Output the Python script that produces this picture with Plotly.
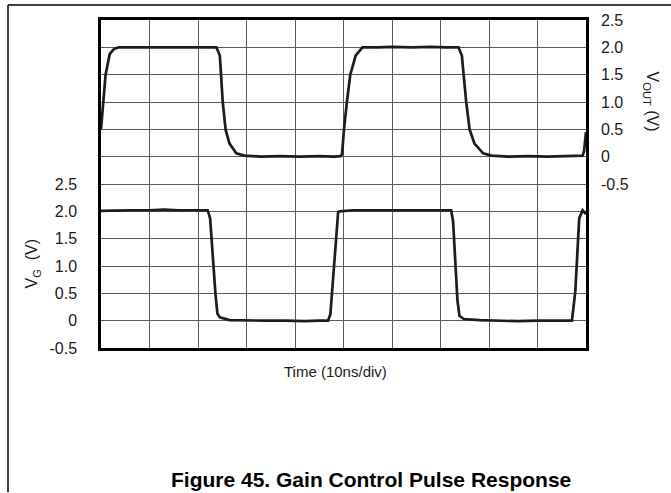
import plotly.graph_objects as go

# Time base: 10 divisions of 10 ns
time_out = [0, 0.4, 0.95, 1.8, 2.7, 3.7, 6, 10, 14, 17, 19, 21, 23.2, 23.8, 24.5, 25.1, 25.7,
            26.5, 27.9, 29.6, 33, 37, 41, 45, 48, 49.4, 49.7, 50.1, 50.7, 51.4, 52.5, 53.9,
            57, 60, 64, 68, 71, 73.2, 73.7, 74.4, 75.3, 76.0, 77.0, 78.8, 80.5, 84, 88, 92,
            96, 99.3, 99.6, 100]
v_out = [0.5, 1.0, 1.5, 1.88, 1.97, 2.0, 2.0, 2.01, 2.0, 2.01, 2.0, 2.01, 2.01, 2.0, 1.85, 1.0,
         0.49, 0.24, 0.06, 0.02, 0.0, 0.01, 0.0, 0.01, 0.0, 0.01, 0.05, 0.5, 1.0, 1.5, 1.85,
         2.0, 2.0, 2.01, 2.0, 2.01, 2.0, 2.01, 2.0, 1.85, 1.0, 0.5, 0.24, 0.06, 0.02, 0.0, 0.01,
         0.0, 0.01, 0.02, 0.1, 0.45]

time_g = [0, 3, 6, 10, 13, 16, 19, 21.6, 22.0, 22.5, 23.1, 23.6, 24.0, 24.5, 26.5, 30, 34, 38,
          42, 45, 46.8, 47.3, 47.8, 48.5, 48.9, 49.2, 52, 55, 59, 63, 67, 70, 72.2, 72.6, 73.1,
          73.5, 73.9, 74.8, 78, 82, 86, 90, 94, 97.1, 97.8, 98.2, 98.6, 99.3, 100]
v_g = [2.01, 2.02, 2.02, 2.02, 2.03, 2.02, 2.02, 2.03, 2.02, 1.87, 1.03, 0.49, 0.13, 0.06, 0.01,
       0.0, 0.0, 0.0, -0.01, 0.0, 0.0, 0.12, 0.72, 1.63, 1.99, 2.0, 2.02, 2.02, 2.02, 2.03,
       2.02, 2.02, 2.02, 1.81, 1.08, 0.36, 0.09, 0.03, 0.01, 0.0, -0.01, 0.0, 0.0, 0.0, 0.54,
       1.21, 1.87, 2.02, 1.95]

tick_vals = [-0.5, 0, 0.5, 1.0, 1.5, 2.0, 2.5]
tick_text = ["-0.5", "0", "0.5", "1.0", "1.5", "2.0", "2.5"]

W, H = 671, 493
ML, MR, MT, MB = 101, 85, 18, 145
PW, PH = W - ML - MR, H - MT - MB


def px(x):
    return (x - ML) / PW


def py(y):
    return (H - MB - y) / PH


FONT = "Liberation Sans, Arial, sans-serif"
GRID = "#5a5a5a"
TRACE = "#1c1c1c"

fig = go.Figure()
fig.add_trace(go.Scatter(x=time_g, y=v_g, mode="lines", yaxis="y",
                         line=dict(color=TRACE, width=2.7), showlegend=False))
fig.add_trace(go.Scatter(x=time_out, y=v_out, mode="lines", yaxis="y2",
                         line=dict(color=TRACE, width=2.7), showlegend=False))

fig.update_layout(
    width=W, height=H,
    margin=dict(l=ML, r=MR, t=MT, b=MB),
    paper_bgcolor="white", plot_bgcolor="white",
    font=dict(family=FONT, size=16, color="#1a1a1a"),
    xaxis=dict(range=[0, 100], dtick=10, tick0=0, showticklabels=False, ticks="",
               showgrid=True, gridcolor=GRID, gridwidth=1, zeroline=False,
               showline=True, linecolor="black", linewidth=2.5, mirror=True),
    yaxis=dict(range=[-0.5, 5.5], tickmode="array", tickvals=tick_vals, ticktext=tick_text,
               ticks="", ticklabelstandoff=18, showgrid=True, gridcolor=GRID, gridwidth=1,
               zeroline=False, showline=True, linecolor="black", linewidth=2.5, mirror=True),
    yaxis2=dict(range=[-3.5, 2.5], overlaying="y", side="right", tickmode="array",
                tickvals=tick_vals, ticktext=tick_text, ticks="", ticklabelstandoff=14,
                showgrid=True, gridcolor=GRID, gridwidth=1, zeroline=False,
                showline=False),
)

annotations = [
    dict(text="Time (10ns/div)", x=px(335), y=py(372), xref="paper", yref="paper",
         showarrow=False, font=dict(size=15), xanchor="center", yanchor="middle"),
    dict(text="V<sub>G</sub>&nbsp; (V)", x=px(33), y=py(263), xref="paper", yref="paper",
         showarrow=False, textangle=-90, font=dict(size=16), xanchor="center", yanchor="middle"),
    dict(text="V<sub>OUT</sub> (V)", x=px(651), y=py(100), xref="paper", yref="paper",
         showarrow=False, textangle=90, font=dict(size=16), xanchor="center", yanchor="middle"),
    dict(text="<b>Figure 45. Gain Control Pulse Response</b>", x=px(371), y=py(480),
         xref="paper", yref="paper", showarrow=False, font=dict(size=21, color="black"),
         xanchor="center", yanchor="middle"),
]
fig.update_layout(annotations=annotations)

# page frame along the top and left edges
fig.add_shape(type="line", xref="paper", yref="paper", x0=px(8), x1=px(W), y0=py(3), y1=py(3),
              line=dict(color="black", width=1.5))
fig.add_shape(type="line", xref="paper", yref="paper", x0=px(8), x1=px(8), y0=py(3), y1=py(H),
              line=dict(color="black", width=1.5))

fig.write_html("out.html")
